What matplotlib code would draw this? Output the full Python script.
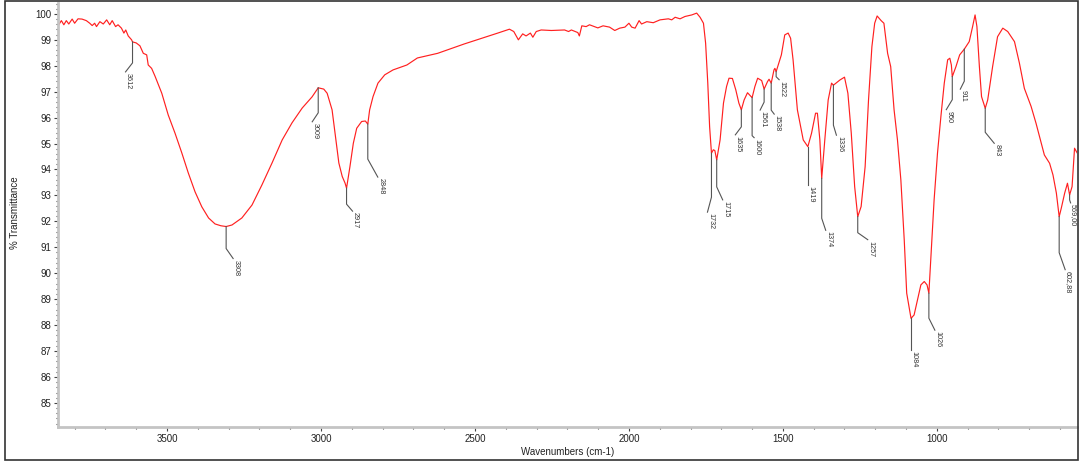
import numpy as np
import matplotlib
matplotlib.use('Agg')
from matplotlib import pyplot as plt
from matplotlib.ticker import MultipleLocator
from matplotlib.patches import Rectangle

# espectro (cm-1, %T)
wavenumber = [3854, 3843, 3835, 3827, 3819, 3808, 3800, 3789, 3776, 3762, 3751, 3743, 3735, 3729,
              3718, 3707, 3696, 3686, 3678, 3667, 3659, 3648, 3640, 3634, 3626, 3615, 3612, 3600,
              3588, 3577, 3566, 3561, 3550, 3539, 3517, 3496, 3474, 3452, 3431, 3409, 3387, 3365,
              3344, 3325, 3308, 3289, 3257, 3224, 3192, 3159, 3126, 3094, 3061, 3029, 3009, 2991,
              2980, 2964, 2953, 2942, 2931, 2922, 2917, 2906, 2895, 2884, 2868, 2856, 2848, 2842,
              2831, 2815, 2793, 2766, 2721, 2687, 2621, 2535, 2470, 2426, 2388, 2374, 2359, 2345,
              2334, 2320, 2312, 2301, 2285, 2252, 2209, 2196, 2187, 2166, 2161, 2153, 2139, 2128,
              2112, 2101, 2084, 2063, 2046, 2030, 2013, 2000, 1991, 1980, 1967, 1959, 1942, 1921,
              1899, 1872, 1861, 1850, 1834, 1818, 1796, 1780, 1769, 1758, 1751, 1744, 1738, 1732,
              1726, 1721, 1715, 1704, 1693, 1683, 1675, 1664, 1653, 1643, 1635, 1626, 1615, 1600,
              1591, 1582, 1569, 1561, 1550, 1545, 1538, 1529, 1526, 1522, 1505, 1494, 1483, 1475,
              1467, 1453, 1434, 1419, 1407, 1394, 1388, 1380, 1374, 1364, 1353, 1342, 1336, 1315,
              1300, 1289, 1278, 1267, 1257, 1246, 1233, 1222, 1211, 1202, 1194, 1181, 1172, 1160,
              1150, 1139, 1128, 1117, 1106, 1098, 1084, 1074, 1063, 1052, 1041, 1032, 1026, 1020,
              1009, 998, 987, 976, 965, 958, 953, 950, 938, 926, 911, 895, 884, 876, 870, 862, 855,
              843, 835, 819, 803, 786, 770, 748, 732, 716, 694, 678, 661, 651, 634, 623, 612,
              602.88, 596, 585, 576, 569, 561, 553, 544]
transmittance = [99.54, 99.74, 99.58, 99.74, 99.61, 99.80, 99.64, 99.81, 99.80, 99.74, 99.64, 99.55,
                 99.64, 99.51, 99.70, 99.61, 99.77, 99.58, 99.74, 99.51, 99.58, 99.45, 99.26, 99.38,
                 99.15, 99.00, 98.92, 98.88, 98.77, 98.48, 98.42, 98.03, 97.90, 97.60, 96.94, 96.10,
                 95.40, 94.64, 93.87, 93.14, 92.56, 92.13, 91.90, 91.83, 91.80, 91.86, 92.13, 92.63,
                 93.40, 94.25, 95.14, 95.80, 96.37, 96.80, 97.15, 97.10, 96.94, 96.30, 95.27, 94.25,
                 93.73, 93.48, 93.28, 94.11, 95.01, 95.59, 95.85, 95.87, 95.75, 96.30, 96.81, 97.33,
                 97.65, 97.84, 98.03, 98.30, 98.48, 98.84, 99.09, 99.26, 99.41, 99.32, 99.00, 99.23,
                 99.15, 99.26, 99.10, 99.32, 99.38, 99.36, 99.38, 99.32, 99.38, 99.28, 99.15, 99.54,
                 99.51, 99.58, 99.51, 99.46, 99.54, 99.49, 99.36, 99.45, 99.49, 99.64, 99.49, 99.45,
                 99.74, 99.61, 99.70, 99.66, 99.77, 99.81, 99.77, 99.87, 99.81, 99.90, 99.96, 100.03,
                 99.87, 99.64, 98.87, 97.34, 95.65, 94.63, 94.76, 94.73, 94.37, 95.14, 96.56, 97.20,
                 97.52, 97.51, 97.07, 96.56, 96.30, 96.68, 96.96, 96.77, 97.20, 97.52, 97.43, 97.10,
                 97.39, 97.48, 97.33, 97.84, 97.90, 97.77, 98.42, 99.19, 99.26, 99.06, 98.23, 96.30,
                 95.14, 94.88, 95.40, 96.17, 96.17, 95.14, 93.66, 95.14, 96.68, 97.33, 97.25, 97.45,
                 97.56, 96.94, 95.40, 93.34, 92.18, 92.57, 94.11, 96.68, 98.74, 99.64, 99.92, 99.74,
                 99.64, 98.48, 97.97, 96.30, 95.14, 93.60, 91.28, 89.23, 88.26, 88.39, 88.97, 89.55,
                 89.68, 89.55, 89.23, 90.51, 92.83, 94.63, 96.04, 97.33, 98.23, 98.29, 98.03, 97.58,
                 97.97, 98.42, 98.64, 98.93, 99.51, 99.96, 99.51, 97.97, 96.81, 96.36, 96.68, 97.97,
                 99.12, 99.45, 99.32, 98.93, 98.10, 97.13, 96.43, 95.78, 95.01, 94.56, 94.24, 93.79,
                 93.09, 92.18, 92.51, 93.09, 93.47, 93.02, 93.34, 94.82, 94.63]

peak_labels = ['3612', '3308', '3009', '2917', '2848', '1732', '1715', '1635', '1600', '1561',
               '1538', '1522', '1419', '1374', '1336', '1257', '1084', '1026', '950', '911',
               '843', '602,88', '569,00']
peak_positions = [3612, 3308, 3009, 2917, 2848, 1732, 1715, 1635, 1600, 1561,
                  1538, 1522, 1419, 1374, 1336, 1257, 1084, 1026, 950, 911,
                  843, 602.88, 569]

# traço das etiquetas em pixels: descida vertical, depois dobra (dx, dy)
leader_layout = [(21, -7, 9), (22, 7, 10), (25, -6, 9), (16, 6, 7), (35, 10, 18),
                 (44, -4, 15), (27, 6, 13), (17, -6, 8), (38, 2, 2), (13, -4, 8),
                 (27, 3, 4), (5, 3, 3), (33, 0, 5), (40, 4, 12), (40, 3, 10),
                 (16, 10, 7), (30, 0, 2), (25, 6, 12), (23, -6, 10), (32, -4, 8),
                 (24, 9, 11), (36, 6, 17), (5, 1, 3)]

plt.rcParams['font.family'] = ['Liberation Sans', 'DejaVu Sans']

W, H = 1080, 465
fig = plt.figure(figsize=(W / 100, H / 100), dpi=100)
ax = fig.add_axes([58 / W, 1 - 427 / H, (1077 - 58) / W, (427 - 3) / H])

ax.plot(wavenumber, transmittance, color='#ff2020', lw=0.85)
ax.set_xlim(3854, 545)
ax.set_ylim(84.07, 100.42)

ax.xaxis.set_major_locator(MultipleLocator(500))
ax.xaxis.set_minor_locator(MultipleLocator(100))
ax.yaxis.set_major_locator(MultipleLocator(1))
ax.yaxis.set_minor_locator(MultipleLocator(0.2))
ax.set_yticks(np.arange(85, 101, 1))
ax.tick_params(which='major', length=3, width=0.8, color='#444444', labelsize=7,
               labelcolor='#222222', pad=2)
ax.tick_params(which='minor', length=1.2, width=0.8, color='#444444')

for s in ['top', 'right']:
    ax.spines[s].set_visible(False)
for s in ['left', 'bottom']:
    ax.spines[s].set_color('#c4c4c4')
    ax.spines[s].set_linewidth(2)

ax.set_xlabel('Wavenumbers (cm-1)', fontsize=7, color='#222222')
ax.set_ylabel('% Transmittance', fontsize=7, color='#222222')
ax.xaxis.set_label_coords(0.5, -20 / 424)
ax.yaxis.set_label_coords(-38 / 1019, 0.505)

# etiquetas dos picos
wn_sorted = np.array(wavenumber)[::-1]
t_sorted = np.array(transmittance)[::-1]
inv = ax.transData.inverted()
for lab, pos, (drop, dx, dy) in zip(peak_labels, peak_positions, leader_layout):
    t = np.interp(pos, wn_sorted, t_sorted)
    x0, y0 = ax.transData.transform((pos, t))
    pts = inv.transform([(x0, y0), (x0, y0 - drop), (x0 + dx, y0 - drop - dy)])
    ax.plot(pts[:, 0], pts[:, 1], color='#555555', lw=0.8)
    tx, ty = inv.transform((x0 + dx + 3, y0 - drop - dy - 1))
    ax.text(tx, ty, lab, rotation=270, ha='center', va='top', fontsize=5.2, color='#333333')

fig.add_artist(Rectangle((5 / W, 5 / H), 1073 / W, 459 / H, transform=fig.transFigure,
                         fill=False, ec='#333333', lw=1.2))

fig.savefig('out.png', dpi=100)
